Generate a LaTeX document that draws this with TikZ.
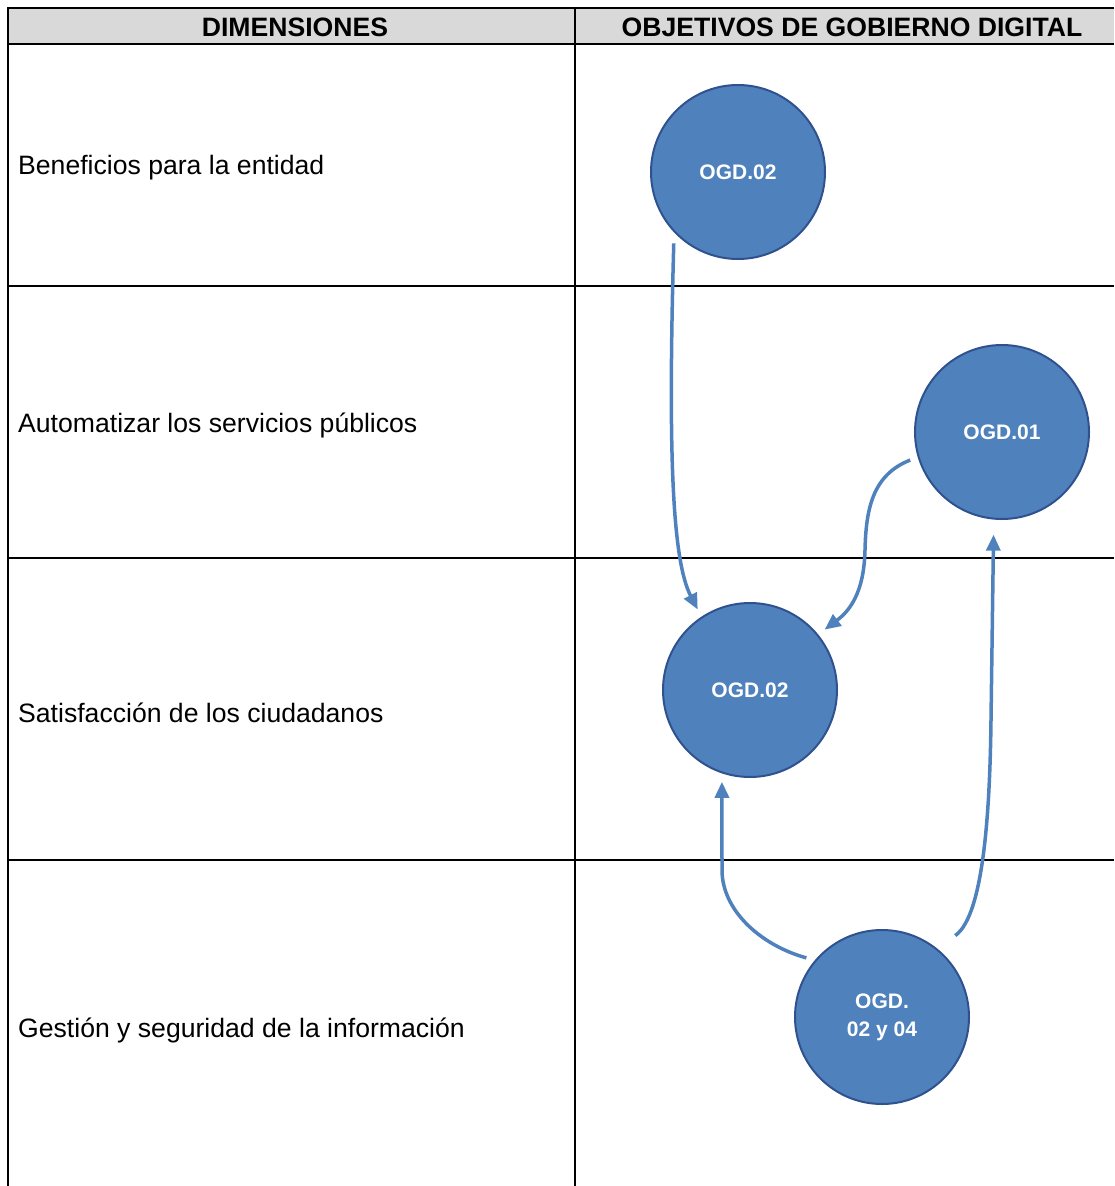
\documentclass[tikz,border=0pt]{standalone}
\usepackage{fontspec}
\setmainfont{Liberation Sans}
\usetikzlibrary{arrows.meta}
\definecolor{ogdfill}{RGB}{79,129,189}
\definecolor{ogdedge}{RGB}{47,82,143}
\definecolor{ogdline}{RGB}{79,129,189}
\definecolor{hdrgray}{RGB}{217,217,217}
\begin{document}
\begin{tikzpicture}[x=1pt,y=-1pt,
  rule/.style={line width=2pt,black},
  hdr/.style={font=\fontsize{26.6}{30}\selectfont\bfseries},
  dimtext/.style={anchor=west,inner sep=0pt,font=\fontsize{26.6}{30}\selectfont},
  ogd/.style={circle,draw=ogdedge,line width=2pt,fill=ogdfill,minimum size=174pt,inner sep=0pt,outer sep=9pt,
    text=white,align=center,font=\fontsize{21}{28}\selectfont\bfseries},
  conn/.style={draw=ogdline,line width=3.5pt,-{Triangle[length=16pt,width=14pt]}}]
\useasboundingbox (0,0) rectangle (1114,1186);
% table
\fill[hdrgray] (8,8) rectangle (1114,44);
\draw[rule] (1114,8) -- (8,8) -- (8,1186);
\draw[rule] (575,8) -- (575,1186);
\foreach \yy in {44,286,558,860} \draw[rule] (8,\yy) -- (1114,\yy);
\node[hdr] (h1) at (295,27) {DIMENSIONES};
\node[hdr] (h2) at (852,27) {OBJETIVOS DE GOBIERNO DIGITAL};
\node[dimtext] (d1) at (18,168) {Beneficios para la entidad};
\node[dimtext] (d2) at (18,425) {Automatizar los servicios públicos};
\node[dimtext] (d3) at (18,713) {Satisfacción de los ciudadanos};
\node[dimtext] (d4) at (18,1030) {Gestión y seguridad de la información};
% circles
\node[ogd] (c1) at (738,172) {OGD.02};
\node[ogd] (c2) at (1002,432) {OGD.01};
\node[ogd] (c3) at (750,690) {OGD.02};
\node[ogd] (c4) at (882,1017) {OGD.\\02 y 04};
% connectors
\draw[conn] (c1.228) .. controls (668,450) and (672,560) .. (c3.123.5);
\draw[conn] (c2.197) .. controls (872,475) and (866,510) .. (865,550)
   .. controls (864,595) and (848,612) .. (c3.39.5);
\draw[conn] (c4.142.5) .. controls (760,945) and (722,910) .. (722,870) -- (c3.253.6);
\draw[conn,shorten <=14pt,shorten >=7pt] (c4.50) .. controls (985,915) and (990,800) .. (991,720) -- (c2.265);
\end{tikzpicture}
\end{document}
